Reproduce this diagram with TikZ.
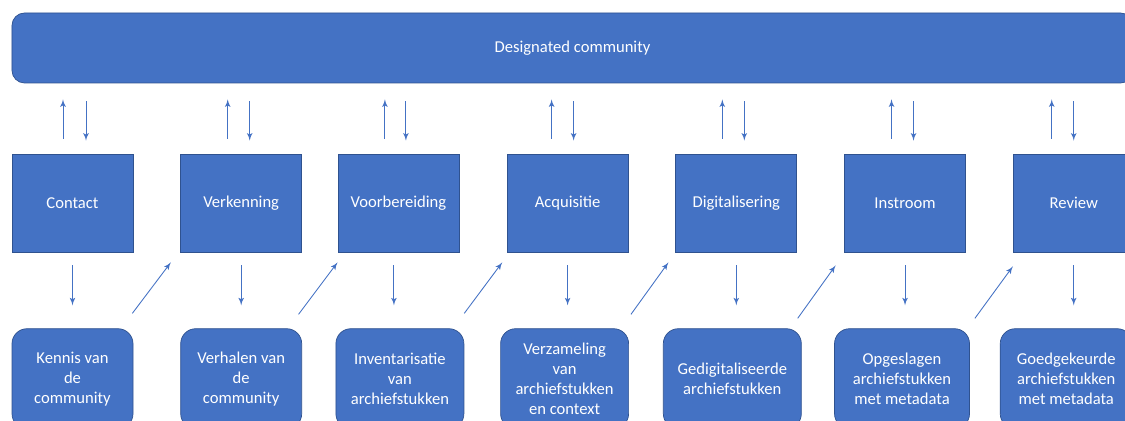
\documentclass[tikz,border=0pt]{standalone}
\usepackage{fontspec}
\setmainfont{Carlito}
\usetikzlibrary{arrows, positioning}
\definecolor{officeblue}{HTML}{4472C4}
\definecolor{officeedge}{HTML}{2F528F}

\begin{document}
\begin{tikzpicture}[node distance=0.94cm, auto]
            \tikzstyle{community} = [rectangle, draw=officeedge, fill=officeblue, text=white, font=\fontsize{9.45}{11.4}\selectfont, rounded corners=0.25cm, minimum width=22.42cm, minimum height=1.4cm]
            \tikzstyle{block} = [rectangle, draw=officeedge, fill=officeblue, text=white, font=\fontsize{9.45}{11.4}\selectfont, minimum width=2.42cm, minimum height=1.96cm]
            \tikzstyle{result} = [block, rounded corners=0.3cm, minimum height=2cm, align=center]
            \tikzstyle{line} = [draw=officeblue, -latex', line width=0.5pt]
            \tikzstyle{lift} = [line, shorten <=0.3cm, shorten >=0.32cm]
            \tikzstyle{drop} = [line, shorten <=0.36cm, shorten >=0.26cm]
            \tikzstyle{feed} = [line, shorten <=0.26cm, shorten >=0.46cm]

            \useasboundingbox (0,0) rectangle (22.5,8.4);
            \clip (0,0) rectangle (22.5,8.4);

            \node [community] (dc) at (11.45,7.44) {Designated community};

            \node [block] (contact) at (1.45,4.34) {Contact};
            \node [block, right=of contact] (verk) {Verkenning};
            \node [block, right=0.71cm of verk] (voorb) {Voorbereiding};
            \node [block, right=0.95cm of voorb] (acq) {Acquisitie};
            \node [block, right=of acq] (digi) {Digitalisering};
            \node [block, right=of digi] (instr) {Instroom};
            \node [block, right=of instr] (review) {Review};

            \node [result, below=1.52cm of contact] (kennis) {Kennis van\\de\\community};
            \node [result, below=1.52cm of verk] (verhalen) {Verhalen van\\de\\community};
            \node [result, minimum width=2.56cm, below=1.52cm of voorb, xshift=0.03cm] (inv) {Inventarisatie\\van\\archiefstukken};
            \node [result, minimum width=2.56cm, below=1.52cm of acq, xshift=-0.06cm] (verz) {Verzameling\\van\\archiefstukken\\en context};
            \node [result, minimum width=2.76cm, below=1.52cm of digi, xshift=-0.08cm] (gedig) {Gedigitaliseerde\\archiefstukken};
            \node [result, minimum width=2.7cm, below=1.52cm of instr, xshift=-0.06cm] (opg) {Opgeslagen\\archiefstukken\\met metadata};
            \node [result, minimum width=2.64cm, below=1.52cm of review, xshift=-0.15cm] (goed) {Goedgekeurde\\archiefstukken\\met metadata};

            % to and from the designated community
            \path [lift] ([xshift=-0.19cm]contact.north) -- ([xshift=-0.19cm]contact.north |- dc.south);
            \path [drop] ([xshift=0.27cm]contact.north |- dc.south) -- ([xshift=0.27cm]contact.north);
            \path [lift] ([xshift=-0.27cm]verk.north) -- ([xshift=-0.27cm]verk.north |- dc.south);
            \path [drop] ([xshift=0.17cm]verk.north |- dc.south) -- ([xshift=0.17cm]verk.north);
            \path [lift] ([xshift=-0.27cm]voorb.north) -- ([xshift=-0.27cm]voorb.north |- dc.south);
            \path [drop] ([xshift=0.15cm]voorb.north |- dc.south) -- ([xshift=0.15cm]voorb.north);
            \path [lift] ([xshift=-0.32cm]acq.north) -- ([xshift=-0.32cm]acq.north |- dc.south);
            \path [drop] ([xshift=0.12cm]acq.north |- dc.south) -- ([xshift=0.12cm]acq.north);
            \path [lift] ([xshift=-0.28cm]digi.north) -- ([xshift=-0.28cm]digi.north |- dc.south);
            \path [drop] ([xshift=0.16cm]digi.north |- dc.south) -- ([xshift=0.16cm]digi.north);
            \path [lift] ([xshift=-0.27cm]instr.north) -- ([xshift=-0.27cm]instr.north |- dc.south);
            \path [drop] ([xshift=0.17cm]instr.north |- dc.south) -- ([xshift=0.17cm]instr.north);
            \path [lift] ([xshift=-0.44cm]review.north) -- ([xshift=-0.44cm]review.north |- dc.south);
            \path [drop] (review.north |- dc.south) -- (review.north);

            % steps to their results
            \path [feed] (contact.south) -- (contact.south |- kennis.north);
            \path [feed] (verk.south) -- (verk.south |- verhalen.north);
            \path [feed] ([xshift=-0.09cm]voorb.south) -- ([xshift=-0.09cm]voorb.south |- inv.north);
            \path [feed] (acq.south) -- (acq.south |- verz.north);
            \path [feed] (digi.south) -- (digi.south |- gedig.north);
            \path [feed] (instr.south) -- (instr.south |- opg.north);
            \path [feed] (review.south) -- (review.south |- goed.north);

            % results to the next step
            \path [line] ([xshift=-0.02cm, yshift=0.3cm]kennis.north east) -- ([xshift=-0.19cm, yshift=-0.2cm]verk.south west);
            \path [line] ([xshift=-0.07cm, yshift=0.28cm]verhalen.north east) -- ([yshift=-0.2cm]voorb.south west);
            \path [line] ([yshift=0.3cm]inv.north east) -- ([xshift=-0.09cm, yshift=-0.2cm]acq.south west);
            \path [line] ([xshift=0.04cm, yshift=0.28cm]verz.north east) -- ([xshift=-0.14cm, yshift=-0.2cm]digi.south west);
            \path [line] ([xshift=-0.08cm, yshift=0.2cm]gedig.north east) -- ([xshift=-0.17cm, yshift=-0.26cm]instr.south west);
            \path [line] ([xshift=0.1cm, yshift=0.2cm]opg.north east) -- ([yshift=-0.28cm]review.south west);
        \end{tikzpicture}
\end{document}
